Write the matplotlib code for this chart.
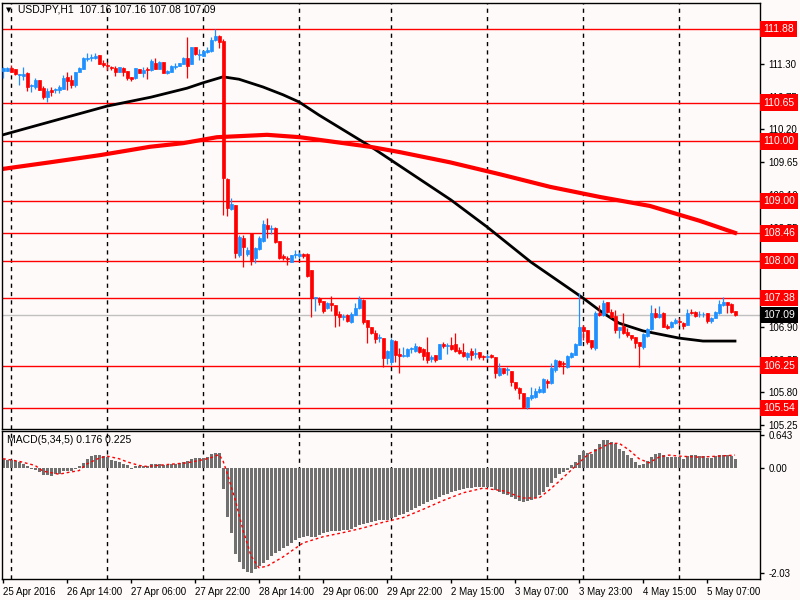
import matplotlib
matplotlib.use('Agg')
import matplotlib.pyplot as plt
import numpy as np

plt.rcParams['font.family'] = ['Liberation Sans', 'DejaVu Sans']

# USDJPY H1 candles, bar 0 = 25 Apr 22:00
opens = [111.18, 111.18, 111.23, 111.21, 111.11, 111.09, 111.14, 110.93, 110.91, 111.03,
         110.89, 110.74, 110.86, 110.86, 110.86, 110.88, 111.08, 111.03, 110.94, 111.16,
         111.21, 111.38, 111.39, 111.39, 111.45, 111.31, 111.28, 111.24, 111.23, 111.16,
         111.23, 111.18, 111.08, 111.06, 111.21, 111.14, 111.21, 111.19, 111.31, 111.21,
         111.33, 111.14, 111.16, 111.24, 111.26, 111.29, 111.39, 111.29, 111.58, 111.45,
         111.43, 111.49, 111.51, 111.70, 111.76, 111.68, 109.37, 108.87, 108.94, 108.10,
         108.38, 108.12, 108.47, 108.05, 108.20, 108.33, 108.60, 108.53, 108.55, 108.33,
         108.08, 108.05, 107.98, 108.10, 108.08, 108.12, 108.12, 107.85, 107.38, 107.38,
         107.33, 107.21, 107.30, 107.26, 107.11, 107.06, 107.10, 106.98, 107.10, 107.21,
         107.35, 107.01, 106.89, 106.79, 106.71, 106.71, 106.38, 106.31, 106.66, 106.44,
         106.41, 106.41, 106.53, 106.49, 106.56, 106.53, 106.48, 106.36, 106.43, 106.36,
         106.61, 106.58, 106.59, 106.61, 106.51, 106.48, 106.39, 106.49, 106.44, 106.48,
         106.41, 106.39, 106.43, 106.39, 106.09, 106.21, 106.17, 106.16, 105.98, 105.87,
         105.79, 105.56, 105.71, 105.72, 105.81, 105.81, 105.99, 105.96, 106.17, 106.33,
         106.29, 106.23, 106.39, 106.43, 106.59, 106.89, 106.84, 106.68, 106.54, 107.13,
         107.10, 107.31, 107.15, 107.08, 106.84, 106.91, 106.81, 106.76, 106.73, 106.64,
         106.56, 106.74, 106.86, 107.13, 107.06, 107.13, 106.91, 106.89, 106.96, 107.00,
         106.96, 106.93, 107.15, 107.15, 107.11, 107.11, 107.13, 107.00, 107.05, 107.13,
         107.26, 107.31, 107.28, 107.16]
highs = [111.24, 111.24, 111.28, 111.21, 111.13, 111.24, 111.16, 110.96, 111.06, 111.03,
         110.93, 110.89, 110.91, 110.89, 110.94, 111.11, 111.16, 111.11, 111.16, 111.24,
         111.41, 111.48, 111.46, 111.48, 111.45, 111.36, 111.33, 111.26, 111.26, 111.24,
         111.24, 111.18, 111.08, 111.23, 111.21, 111.24, 111.24, 111.38, 111.39, 111.34,
         111.33, 111.19, 111.28, 111.31, 111.31, 111.41, 111.75, 111.58, 111.58, 111.55,
         111.53, 111.58, 111.75, 111.88, 111.78, 111.71, 109.39, 109.05, 108.94, 108.43,
         108.43, 108.23, 108.47, 108.23, 108.42, 108.68, 108.72, 108.60, 108.57, 108.33,
         108.12, 108.08, 108.10, 108.18, 108.15, 108.13, 108.13, 107.85, 107.40, 107.40,
         107.33, 107.31, 107.41, 107.26, 107.16, 107.11, 107.11, 107.15, 107.30, 107.41,
         107.36, 107.01, 106.89, 106.84, 106.78, 106.71, 106.51, 106.71, 106.68, 106.54,
         106.56, 106.54, 106.56, 106.63, 106.58, 106.54, 106.73, 106.43, 106.43, 106.61,
         106.64, 106.63, 106.73, 106.79, 106.56, 106.63, 106.48, 106.54, 106.54, 106.48,
         106.43, 106.44, 106.44, 106.39, 106.29, 106.21, 106.23, 106.16, 105.98, 105.89,
         105.79, 105.72, 105.89, 105.87, 105.91, 106.04, 106.03, 106.29, 106.36, 106.34,
         106.33, 106.43, 106.48, 106.63, 107.46, 106.93, 106.84, 106.68, 107.16, 107.26,
         107.35, 107.31, 107.20, 107.18, 106.89, 107.13, 106.88, 106.76, 106.73, 106.64,
         106.79, 106.88, 107.26, 107.21, 107.25, 107.15, 106.95, 107.00, 107.05, 107.05,
         106.98, 107.20, 107.20, 107.16, 107.16, 107.15, 107.13, 107.06, 107.16, 107.35,
         107.40, 107.31, 107.30, 107.16]
lows = [111.06, 111.18, 111.16, 111.11, 110.94, 111.03, 110.84, 110.83, 110.88, 110.86,
        110.71, 110.66, 110.76, 110.81, 110.81, 110.88, 110.86, 110.89, 110.91, 111.16,
        111.21, 111.34, 111.34, 111.38, 111.29, 111.24, 111.19, 111.19, 111.09, 111.16,
        111.09, 111.03, 111.01, 111.04, 111.14, 111.08, 111.04, 111.18, 111.21, 111.21,
        111.14, 111.13, 111.16, 111.21, 111.26, 111.29, 111.06, 111.29, 111.45, 111.36,
        111.43, 111.48, 111.49, 111.68, 111.56, 108.77, 108.75, 108.85, 108.05, 108.07,
        107.90, 108.08, 107.93, 107.97, 108.18, 108.32, 108.38, 108.45, 108.30, 108.03,
        108.02, 107.93, 107.98, 108.05, 108.05, 108.05, 107.73, 107.06, 107.16, 107.26,
        107.13, 107.20, 107.16, 106.89, 106.91, 107.01, 106.98, 106.96, 107.10, 107.20,
        106.95, 106.63, 106.78, 106.63, 106.64, 106.23, 106.28, 106.26, 106.31, 106.13,
        106.39, 106.39, 106.46, 106.48, 106.46, 106.34, 106.29, 106.31, 106.31, 106.36,
        106.54, 106.44, 106.51, 106.48, 106.44, 106.39, 106.34, 106.34, 106.38, 106.36,
        106.34, 106.36, 106.38, 106.04, 106.07, 106.11, 106.09, 105.91, 105.84, 105.69,
        105.54, 105.52, 105.67, 105.71, 105.79, 105.79, 105.87, 105.94, 106.14, 106.23,
        106.11, 106.21, 106.38, 106.43, 106.59, 106.68, 106.61, 106.53, 106.51, 107.08,
        107.08, 107.13, 107.05, 106.79, 106.71, 106.78, 106.73, 106.68, 106.54, 106.23,
        106.53, 106.73, 106.84, 107.05, 107.05, 106.89, 106.86, 106.88, 106.95, 106.93,
        106.86, 106.93, 107.11, 107.06, 107.06, 107.06, 106.96, 106.96, 107.05, 107.11,
        107.25, 107.13, 107.13, 107.08]
closes = [111.23, 111.23, 111.16, 111.13, 111.13, 111.13, 110.91, 110.94, 111.03, 110.86,
          110.74, 110.84, 110.83, 110.88, 110.91, 111.06, 111.01, 110.94, 111.16, 111.23,
          111.39, 111.39, 111.41, 111.43, 111.29, 111.28, 111.26, 111.23, 111.16, 111.24,
          111.16, 111.06, 111.04, 111.23, 111.14, 111.19, 111.19, 111.34, 111.21, 111.33,
          111.14, 111.18, 111.26, 111.26, 111.31, 111.39, 111.26, 111.58, 111.46, 111.46,
          111.51, 111.53, 111.70, 111.76, 111.66, 109.39, 108.89, 108.95, 108.13, 108.40,
          108.23, 108.18, 108.02, 108.22, 108.38, 108.62, 108.53, 108.55, 108.32, 108.05,
          108.05, 108.03, 108.10, 108.12, 108.12, 108.08, 107.75, 107.38, 107.40, 107.31,
          107.16, 107.30, 107.26, 107.10, 107.06, 107.08, 107.00, 107.11, 107.21, 107.36,
          106.98, 106.89, 106.79, 106.69, 106.73, 106.38, 106.49, 106.68, 106.43, 106.41,
          106.43, 106.53, 106.54, 106.58, 106.48, 106.41, 106.34, 106.39, 106.34, 106.61,
          106.58, 106.59, 106.53, 106.49, 106.46, 106.41, 106.46, 106.43, 106.46, 106.39,
          106.39, 106.41, 106.39, 106.13, 106.21, 106.13, 106.19, 105.98, 105.87, 105.79,
          105.56, 105.72, 105.76, 105.82, 105.86, 106.03, 105.96, 106.21, 106.34, 106.26,
          106.28, 106.41, 106.46, 106.61, 106.89, 106.83, 106.64, 106.56, 107.13, 107.10,
          107.30, 107.15, 107.06, 106.84, 106.89, 106.79, 106.76, 106.71, 106.63, 106.58,
          106.78, 106.86, 107.13, 107.06, 107.11, 106.89, 106.88, 106.98, 107.01, 106.98,
          106.91, 107.13, 107.13, 107.08, 107.12, 107.12, 107.00, 107.05, 107.15, 107.28,
          107.31, 107.26, 107.15, 107.09]

# moving averages, read at a few bars
ma_black_bars = [0, 7, 13.5, 26, 37, 46, 50, 55, 59, 65, 70, 74, 79, 92, 112, 121, 132,
                 138.5, 145, 150, 154, 160, 169, 175, 183]
ma_black = [110.11, 110.24, 110.36, 110.59, 110.74, 110.89, 110.98, 111.08, 111.04, 110.91,
            110.78, 110.66, 110.44, 109.91, 109.02, 108.57, 107.98, 107.68, 107.38, 107.13,
            106.96, 106.83, 106.71, 106.66, 106.66]
ma_red_bars = [0, 11.75, 24.25, 36.75, 45, 53.5, 66, 74.25, 91.75, 99.25, 111.75, 124.25,
               136.75, 149.25, 161.75, 174.25, 183]
ma_red = [109.54, 109.65, 109.77, 109.91, 109.97, 110.07, 110.11, 110.07, 109.91, 109.82,
          109.65, 109.45, 109.24, 109.07, 108.92, 108.67, 108.47]

levels = [111.88, 110.65, 110.00, 109.00, 108.46, 108.00, 107.38, 106.25, 105.54]
last_price = 107.09
price_ticks = [111.30, 110.75, 110.20, 109.65, 109.10, 108.55, 108.00, 107.45, 106.90,
               106.35, 105.80, 105.25]

macd_hist = [0.18, 0.16, 0.15, 0.14, 0.12, 0.08, 0.03, -0.01, -0.03, -0.08,
             -0.13, -0.13, -0.15, -0.12, -0.11, -0.06, -0.05, -0.06, -0.01, 0.03,
             0.10, 0.17, 0.23, 0.26, 0.26, 0.23, 0.21, 0.16, 0.14, 0.12,
             0.08, 0.05, -0.02, 0.04, 0.03, 0.03, 0.04, 0.07, 0.08, 0.08,
             0.06, 0.06, 0.07, 0.08, 0.10, 0.11, 0.13, 0.17, 0.19, 0.19,
             0.19, 0.21, 0.28, 0.30, 0.30, -0.40, -0.95, -1.26, -1.67, -1.82,
             -1.96, -2.01, -2.03, -1.95, -1.90, -1.84, -1.78, -1.70, -1.64, -1.60,
             -1.55, -1.51, -1.45, -1.39, -1.35, -1.33, -1.32, -1.33, -1.33, -1.30,
             -1.26, -1.24, -1.22, -1.22, -1.22, -1.20, -1.20, -1.18, -1.14, -1.10,
             -1.08, -1.06, -1.04, -1.03, -1.01, -1.01, -1.01, -0.97, -0.95, -0.91,
             -0.89, -0.85, -0.81, -0.77, -0.74, -0.70, -0.66, -0.62, -0.60, -0.56,
             -0.52, -0.50, -0.46, -0.44, -0.43, -0.41, -0.39, -0.39, -0.37, -0.37,
             -0.37, -0.37, -0.37, -0.43, -0.46, -0.50, -0.52, -0.56, -0.60, -0.64,
             -0.66, -0.64, -0.62, -0.58, -0.53, -0.46, -0.37, -0.29, -0.19, -0.11,
             -0.08, -0.03, 0.05, 0.12, 0.26, 0.33, 0.30, 0.28, 0.37, 0.46,
             0.54, 0.55, 0.50, 0.46, 0.37, 0.33, 0.26, 0.20, 0.12, 0.06,
             0.08, 0.14, 0.21, 0.28, 0.29, 0.25, 0.21, 0.21, 0.21, 0.21,
             0.18, 0.23, 0.25, 0.25, 0.23, 0.23, 0.20, 0.20, 0.23, 0.26,
             0.26, 0.25, 0.23, 0.18]
sig_bars = [0, 4, 8, 10, 14, 16, 19, 21, 24, 26, 29, 31, 34, 36, 40, 43, 46, 50, 52, 54,
            55, 56, 58, 60, 62, 64, 66, 70, 75, 80, 85, 90, 95, 100, 105, 110, 115, 120,
            125, 130, 134, 136.5, 139, 141.5, 144, 146.5, 149, 151.5, 154, 156.5, 159,
            161.5, 164, 166.5, 169, 174, 179, 183]
sig_vals = [0.18, 0.13, 0.05, -0.06, -0.12, -0.09, -0.05, 0.08, 0.19, 0.23, 0.18, 0.12,
            0.05, 0.03, 0.06, 0.08, 0.10, 0.16, 0.20, 0.26, 0.14, -0.09, -0.60, -1.20,
            -1.70, -1.93, -1.90, -1.72, -1.45, -1.33, -1.25, -1.16, -1.05, -0.96, -0.80,
            -0.63, -0.48, -0.39, -0.44, -0.58, -0.58, -0.43, -0.26, -0.08, 0.10, 0.28,
            0.37, 0.47, 0.48, 0.35, 0.18, 0.10, 0.21, 0.25, 0.23, 0.21, 0.23, 0.25]

day_sep_bars = [2, 26, 50, 74, 97, 121, 145, 169]
time_bars = [0, 16, 32, 48, 64, 80, 96, 112, 128, 144, 160, 176]
time_labels = ['25 Apr 2016', '26 Apr 14:00', '27 Apr 06:00', '27 Apr 22:00',
               '28 Apr 14:00', '29 Apr 06:00', '29 Apr 22:00', '2 May 15:00',
               '3 May 07:00', '3 May 23:00', '4 May 15:00', '5 May 07:00']

BG = '#FFFAFA'
BULL = '#1E90FF'
BEAR = '#FF0000'
FS = 7

fig = plt.figure(figsize=(8, 6), dpi=100, facecolor=BG)
ax = fig.add_axes([2/800, 171/600, 758/800, 426/600], facecolor=BG)
mx = fig.add_axes([2/800, 21/600, 758/800, 148/600], facecolor=BG)

o = np.array(opens); h = np.array(highs); l = np.array(lows); c = np.array(closes)
bars = np.arange(len(c))
cols = np.where(c >= o, BULL, BEAR)

for a in (ax, mx):
    a.set_xlim(-0.25, 189.25)
    for b in day_sep_bars:
        a.axvline(b, color='black', lw=1, ls=(0, (3, 3)), zorder=1)
    for s in a.spines.values():
        s.set_color('black')
        s.set_linewidth(1)

# main chart
for lv in levels:
    ax.axhline(lv, color='red', lw=1, zorder=1)
ax.axhline(last_price, color='#C0C0C0', lw=1, zorder=1)

ax.plot(ma_black_bars, ma_black, color='black', lw=2, zorder=2)
ax.plot(ma_red_bars, ma_red, color='red', lw=3, zorder=2)

ax.vlines(bars, l, h, colors=cols, lw=0.9, zorder=3)
ax.bar(bars, np.abs(c - o), bottom=np.minimum(o, c), width=0.75, color=cols,
       edgecolor=cols, linewidth=0.5, zorder=4)

ax.set_ylim(105.189, 112.315)
ax.set_xticks([])
ax.yaxis.tick_right()
ax.set_yticks(price_ticks)
ax.set_yticklabels([f'{t:.2f}' for t in price_ticks], fontsize=FS)
ax.tick_params(axis='y', length=3, pad=3, width=1, colors='black')

tr = ax.get_yaxis_transform()
for lv in levels:
    ax.text(1.0045, lv, f'{lv:.2f}', transform=tr, fontsize=FS + 0.5, color='white',
            va='center', ha='left', clip_on=False, zorder=10,
            bbox=dict(boxstyle='square,pad=0.3', fc='red', ec='none'))
ax.text(1.0045, last_price, f'{last_price:.2f}', transform=tr, fontsize=FS + 0.5,
        color='white', va='center', ha='left', clip_on=False, zorder=10,
        bbox=dict(boxstyle='square,pad=0.3', fc='black', ec='none'))

fig.text(6/800, 1 - 10/600, '▼', fontsize=5, va='center', ha='left',
         family='DejaVu Sans')
fig.text(18/800, 1 - 10/600, 'USDJPY,H1  107.16 107.16 107.08 107.09', fontsize=FS + 0.5,
         va='center', ha='left')

# MACD panel
mx.bar(bars, macd_hist, width=0.75, color='#707070', zorder=2)
mx.plot(sig_bars, sig_vals, color='red', lw=1, ls=(0, (2, 2)), zorder=3)
mx.set_ylim(-2.147, 0.716)
mx.yaxis.tick_right()
mx.set_yticks([0.643, 0.0, -2.03])
mx.set_yticklabels(['0.643', '0.00', '-2.03'], fontsize=FS)
mx.tick_params(axis='y', length=3, pad=3, width=1)
mx.set_xticks(time_bars)
mx.set_xticklabels(time_labels, fontsize=FS, ha='left')
mx.tick_params(axis='x', length=3, pad=3, width=1)
mx.text(5/758, 1 - 9/148, 'MACD(5,34,5) 0.176 0.225', transform=mx.transAxes,
        fontsize=FS + 0.5, va='center', ha='left')

fig.savefig('out.png', dpi=100, facecolor=BG)
